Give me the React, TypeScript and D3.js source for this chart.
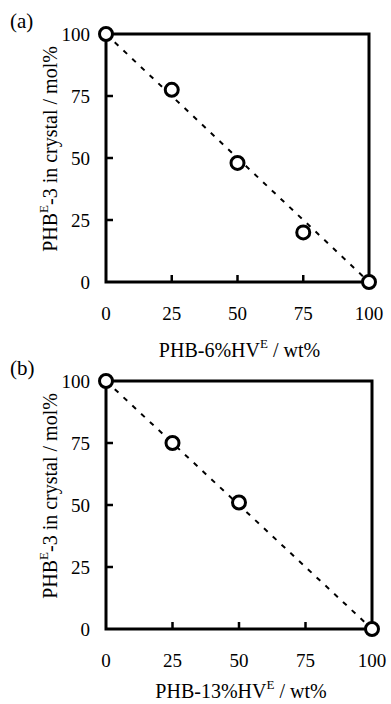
import React from "react";
import * as d3 from "d3";

// data
const xTicks = [0, 25, 50, 75, 100];
const yTicks = [0, 25, 50, 75, 100];
const blendA = [0, 25, 50, 75, 100];
const crystalA = [100, 77.5, 48, 20, 0];
const blendB = [0, 25, 50, 100];
const crystalB = [100, 75, 51, 0];
const fitLine = [
  [0, 100],
  [100, 0],
];

const font = "Liberation Serif, Times New Roman, serif";

type PanelProps = {
  tag: string;
  xs: number[];
  ys: number[];
  hv: string;
  top: number;
  bottom: number;
  right: number;
  labelY: number;
};

const Panel = ({ tag, xs, ys, hv, top, bottom, right, labelY }: PanelProps) => {
  const left = 106;
  const x = d3.scaleLinear().domain([0, 100]).range([left, right]);
  const y = d3.scaleLinear().domain([0, 100]).range([bottom, top]);
  const line = d3
    .line<number[]>()
    .x((d) => x(d[0]))
    .y((d) => y(d[1]));
  const midY = (top + bottom) / 2;

  return (
    <g>
      <text x={10} y={top - 6} fontSize={21} fontFamily={font}>
        {tag}
      </text>
      <rect
        x={left}
        y={top}
        width={right - left}
        height={bottom - top}
        fill="none"
        stroke="#000"
        strokeWidth={3}
      />
      {xTicks.slice(1, -1).map((t) => (
        <line key={"x" + t} x1={x(t)} x2={x(t)} y1={bottom} y2={bottom - 7} stroke="#000" strokeWidth={2.5} />
      ))}
      {yTicks.slice(1, -1).map((t) => (
        <line key={"y" + t} x1={left} x2={left + 7} y1={y(t)} y2={y(t)} stroke="#000" strokeWidth={2.5} />
      ))}
      {xTicks.map((t) => (
        <text key={"xl" + t} x={x(t)} y={bottom + 38} fontSize={19} fontFamily={font} textAnchor="middle">
          {t}
        </text>
      ))}
      {yTicks.map((t) => (
        <text key={"yl" + t} x={90} y={y(t) + 7} fontSize={19} fontFamily={font} textAnchor="end">
          {t}
        </text>
      ))}
      <path
        d={line(fitLine) || ""}
        fill="none"
        stroke="#000"
        strokeWidth={2}
        strokeDasharray="5 7"
      />
      {xs.map((v, i) => (
        <circle key={i} cx={x(v)} cy={y(ys[i])} r={6.5} fill="#fff" stroke="#000" strokeWidth={3} />
      ))}
      <text
        transform={`translate(57, ${midY - 9}) rotate(-90)`}
        fontSize={20}
        fontFamily={font}
        textAnchor="middle"
      >
        PHB
        <tspan fontSize={13} dy={-9}>E</tspan>
        <tspan dy={9}>-3 in crystal / mol%</tspan>
      </text>
      <text x={(left + right) / 2 + 2} y={labelY} fontSize={20} fontFamily={font} textAnchor="middle">
        {hv}
        <tspan fontSize={13} dy={-9}>E</tspan>
        <tspan dy={9}> / wt%</tspan>
      </text>
    </g>
  );
};

export default function App() {
  return (
    <svg
      width={391}
      height={704}
      style={{ position: "absolute", left: 0, top: 0, background: "#fff" }}
    >
      <Panel tag="(a)" xs={blendA} ys={crystalA} hv="PHB-6%HV" top={34} bottom={282} right={369} labelY={357} />
      <Panel tag="(b)" xs={blendB} ys={crystalB} hv="PHB-13%HV" top={381} bottom={629} right={372} labelY={698} />
    </svg>
  );
}
